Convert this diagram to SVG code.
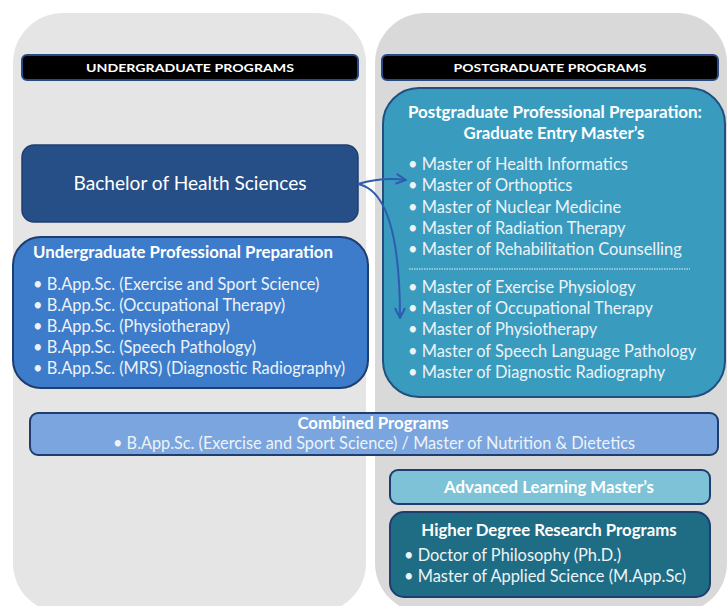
<svg xmlns="http://www.w3.org/2000/svg" width="728" height="606" viewBox="0 0 728 606">
  <defs>
    <marker id="arrowOpen" viewBox="0 0 12 12" refX="11" refY="6" markerWidth="12" markerHeight="12" markerUnits="userSpaceOnUse" orient="auto">
      <path d="M1,1 L11,6 L1,11" fill="none" stroke="#2e5cb0" stroke-width="2" stroke-linejoin="miter"/>
    </marker>
  </defs>
  <style>
    text { font-family: Lato, "Open Sans", "Liberation Sans", sans-serif; fill: #ffffff; }
    .hdr { font-size: 12px; font-weight: bold; text-anchor: middle; }
    .ttl { font-size: 16.8px; font-weight: bold; }
    .itm { font-size: 16.4px; fill: #eef3f8; }
    .mid { text-anchor: middle; }
    .bar { fill: #000000; stroke: #274a86; stroke-width: 2; }
    .edge { fill: none; stroke: #2e5cb0; stroke-width: 2; marker-end: url(#arrowOpen); }
  </style>

  <rect width="728" height="606" fill="#ffffff"/>

  <!-- two column backgrounds -->
  <g id="col-undergraduate">
    <rect x="13" y="13" width="353" height="600" rx="50" fill="#e5e5e5"/>
  </g>
  <g id="col-postgraduate">
    <rect x="375" y="13" width="352" height="600" rx="50" fill="#d9d9d9"/>
  </g>

  <g id="hdr-undergraduate">
    <rect class="bar" x="22" y="55" width="336" height="25" rx="5"/>
    <text class="hdr" x="190" y="72" textLength="208" lengthAdjust="spacingAndGlyphs">UNDERGRADUATE PROGRAMS</text>
  </g>
  <g id="hdr-postgraduate">
    <rect class="bar" x="382" y="55" width="336" height="25" rx="5"/>
    <text class="hdr" x="550" y="72" textLength="193" lengthAdjust="spacingAndGlyphs">POSTGRADUATE PROGRAMS</text>
  </g>

  <g id="bachelor">
    <rect x="22" y="145" width="336" height="77" rx="12" fill="#264f87" stroke="#1f3f70" stroke-width="1.5"/>
    <text x="190" y="190" class="mid" font-size="20" textLength="233" lengthAdjust="spacingAndGlyphs">Bachelor of Health Sciences</text>
  </g>

  <g id="undergrad-prep">
    <rect x="13" y="237" width="355" height="151" rx="28" fill="#3d7ccb" stroke="#1f3d6e" stroke-width="2"/>
    <text class="ttl" x="33" y="258" textLength="300" lengthAdjust="spacingAndGlyphs">Undergraduate Professional Preparation</text>
    <text class="itm" x="33" y="290">• B.App.Sc. (Exercise and Sport Science)</text>
    <text class="itm" x="33" y="311">• B.App.Sc. (Occupational Therapy)</text>
    <text class="itm" x="33" y="332">• B.App.Sc. (Physiotherapy)</text>
    <text class="itm" x="33" y="353">• B.App.Sc. (Speech Pathology)</text>
    <text class="itm" x="33" y="374">• B.App.Sc. (MRS) (Diagnostic Radiography)</text>
  </g>

  <g id="postgrad-prep">
    <rect x="383" y="88" width="342" height="309" rx="36" fill="#399cbf" stroke="#21507f" stroke-width="2"/>
    <text class="ttl mid" x="555" y="118" textLength="294" lengthAdjust="spacingAndGlyphs">Postgraduate Professional Preparation:</text>
    <text class="ttl mid" x="554" y="139">Graduate Entry Master’s</text>
    <text class="itm" x="408" y="170">• Master of Health Informatics</text>
    <text class="itm" x="408" y="191">• Master of Orthoptics</text>
    <text class="itm" x="408" y="213">• Master of Nuclear Medicine</text>
    <text class="itm" x="408" y="234">• Master of Radiation Therapy</text>
    <text class="itm" x="408" y="255">• Master of Rehabilitation Counselling</text>
    <line x1="409" y1="269" x2="690" y2="269" stroke="#e8f2f7" stroke-width="1" stroke-dasharray="1.5 1"/>
    <text class="itm" x="408" y="293">• Master of Exercise Physiology</text>
    <text class="itm" x="408" y="314">• Master of Occupational Therapy</text>
    <text class="itm" x="408" y="335">• Master of Physiotherapy</text>
    <text class="itm" x="408" y="357">• Master of Speech Language Pathology</text>
    <text class="itm" x="408" y="378">• Master of Diagnostic Radiography</text>
  </g>

  <g id="combined">
    <rect x="30" y="413" width="688" height="42" rx="8" fill="#7aa5de" stroke="#1f3d6e" stroke-width="2"/>
    <text class="ttl mid" x="373" y="429">Combined Programs</text>
    <text class="itm mid" x="374" y="449" textLength="522" lengthAdjust="spacingAndGlyphs">• B.App.Sc. (Exercise and Sport Science) / Master of Nutrition &amp; Dietetics</text>
  </g>

  <g id="advanced">
    <rect x="390" y="470" width="320" height="34" rx="8" fill="#7dc2d6" stroke="#1f3d6e" stroke-width="2"/>
    <text class="ttl mid" x="549" y="493">Advanced Learning Master’s</text>
  </g>

  <g id="research">
    <rect x="390" y="512" width="320" height="85" rx="14" fill="#1e6d84" stroke="#1f3d6e" stroke-width="2"/>
    <text class="ttl mid" x="549" y="536">Higher Degree Research Programs</text>
    <text class="itm" x="404" y="561">• Doctor of Philosophy (Ph.D.)</text>
    <text class="itm" x="404" y="582">• Master of Applied Science (M.App.Sc)</text>
  </g>

  <g id="connectors">
    <path class="edge" d="M358,184 Q382,177 406,180"/>
    <path class="edge" d="M358,184 C388,190 400,240 400,318"/>
  </g>
</svg>
